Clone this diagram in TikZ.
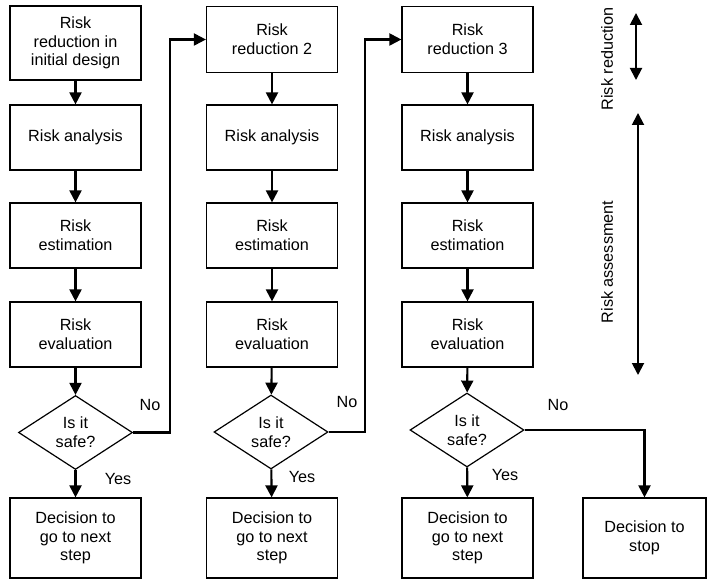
\documentclass[tikz,border=0pt]{standalone}
\usepackage{fontspec}
\setmainfont{Liberation Sans}
\usetikzlibrary{shapes.geometric,arrows.meta}
\begin{document}
\begin{tikzpicture}[x=1pt,y=-1pt,
  every node/.style={font=\fontsize{16.2}{18.6}\selectfont, align=center},
  stepbox/.style={draw, line width=1.2pt, minimum width=131pt, inner sep=0pt},
  choice/.style={draw, diamond, line width=1.2pt, inner sep=0pt, shape aspect=1.55,
                 minimum width=114pt, minimum height=74pt},
  flow/.style={line width=2.1pt, -{Triangle[width=12pt,length=12pt]}},
  span/.style={line width=1.9pt, {Triangle[width=12pt,length=12pt]}-{Triangle[width=12pt,length=12pt]}},
  tag/.style={inner sep=0pt}]
\useasboundingbox (0,0) rectangle (708,580);

% first iteration
\node[stepbox, minimum height=74pt] (a1) at (75.5,43) {Risk\\reduction in\\initial design};
\node[stepbox, minimum height=65pt] (a2) at (75.5,137.5) {Risk analysis};
\node[stepbox, minimum height=65pt] (a3) at (75.5,235.5) {Risk\\estimation};
\node[stepbox, minimum height=65pt] (a4) at (75.5,334.5) {Risk\\evaluation};
\node[choice] (a5) at (75.5,432.5) {Is it\\safe?};
\node[stepbox, minimum height=80pt] (a6) at (75.5,538) {Decision to\\go to next\\step};

% second iteration
\node[stepbox, minimum height=66pt] (b1) at (272,39.5) {Risk\\reduction 2};
\node[stepbox, minimum height=65pt] (b2) at (272,137.5) {Risk analysis};
\node[stepbox, minimum height=65pt] (b3) at (272,235.5) {Risk\\estimation};
\node[stepbox, minimum height=65pt] (b4) at (272,334.5) {Risk\\evaluation};
\node[choice] (b5) at (271,432) {Is it\\safe?};
\node[stepbox, minimum height=80pt] (b6) at (272,538) {Decision to\\go to next\\step};

% third iteration
\node[stepbox, minimum height=66pt] (c1) at (467.5,39.5) {Risk\\reduction 3};
\node[stepbox, minimum height=65pt] (c2) at (467.5,137.5) {Risk analysis};
\node[stepbox, minimum height=65pt] (c3) at (467.5,235.5) {Risk\\estimation};
\node[stepbox, minimum height=65pt] (c4) at (467.5,334.5) {Risk\\evaluation};
\node[choice] (c5) at (467,430) {Is it\\safe?};
\node[stepbox, minimum height=80pt] (c6) at (467.5,538) {Decision to\\go to next\\step};
\node[stepbox, minimum width=123pt, minimum height=80pt] (stop) at (644.5,538) {Decision to\\stop};

% vertical flow
\foreach \c in {a,b,c}{
  \draw[flow] (\c1) -- (\c2);
  \draw[flow] (\c2) -- (\c3);
  \draw[flow] (\c3) -- (\c4);
  \draw[flow] (\c4) -- (\c5);
  \draw[flow] (\c5) -- (\c6);
}

% "No" branches
\coordinate (k1) at (170,432.5);
\coordinate (k2) at (365,432);
\draw[flow] (a5.east) -- (k1) |- (b1.west);
\draw[flow] (b5.east) -- (k2) |- (c1.west);
\draw[flow] (c5.east) -| (stop.north);

% branch labels
\node[tag] (n1) at (150,405) {No};
\node[tag] (n2) at (347,402) {No};
\node[tag] (n3) at (558,405) {No};
\node[tag] (y1) at (118,479) {Yes};
\node[tag] (y2) at (302,477) {Yes};
\node[tag] (y3) at (505,475) {Yes};

% phase markers
\coordinate (rr1) at (636,13);
\coordinate (rr2) at (636,80);
\coordinate (ra1) at (638,113);
\coordinate (ra2) at (638,375);
\draw[span] (rr1) -- (rr2);
\draw[span] (ra1) -- (ra2);
\node[tag, rotate=90] (lr) at (607,59) {Risk reduction};
\node[tag, rotate=90] (la) at (607,262) {Risk assessment};
\end{tikzpicture}
\end{document}
